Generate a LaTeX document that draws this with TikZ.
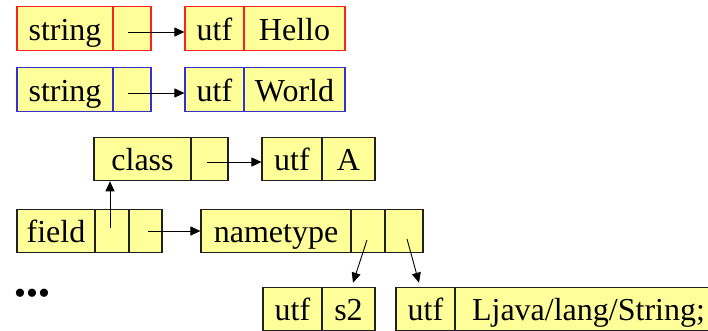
\documentclass[tikz,border=0pt]{standalone}
\usepackage{fontspec}
\setmainfont{Liberation Serif}
\newfontfamily\cellfont{Liberation Serif}
\usetikzlibrary{arrows.meta}
\definecolor{cellfill}{HTML}{FFFF99}
\definecolor{redline}{HTML}{FF2020}
\definecolor{blueline}{HTML}{3333CC}
\definecolor{blackline}{HTML}{202020}
\tikzset{
  cell/.style={draw=blackline, fill=cellfill, line width=1.1pt, inner sep=0pt,
    text height=33.5pt, text depth=10pt, font=\cellfont\fontsize{32}{38}\selectfont},
  redcell/.style={cell, draw=redline},
  bluecell/.style={cell, draw=blueline},
  arr/.style={line width=0.9pt, -{Triangle[length=10pt,width=9pt]}},
}
\newcommand{\cellat}[6]{% style, name, x1, x2, ycenter, text
  \node[#1, minimum width={(#4-#3)*1pt}, anchor=center] (#2) at ({(#3+#4)/2},#5) {#6};}
\begin{document}
\begin{tikzpicture}[x=1pt,y=-1pt]
\useasboundingbox (0,0) rectangle (708,330);
\clip (0,0) rectangle (708,330);
% row 1
\cellat{redcell}{s1a}{17}{113}{28.5}{string}
\cellat{redcell}{s1b}{113}{151}{28.5}{}
\cellat{redcell}{h1a}{185}{244}{28.5}{utf}
\cellat{redcell}{h1b}{244}{345}{28.5}{Hello}
% row 2
\cellat{bluecell}{s2a}{17}{113}{89.5}{string}
\cellat{bluecell}{s2b}{113}{151}{89.5}{}
\cellat{bluecell}{w1a}{185}{244}{89.5}{utf}
\cellat{bluecell}{w1b}{244}{345}{89.5}{World}
% class
\cellat{cell}{ca}{94}{191}{159}{class}
\cellat{cell}{cb}{191}{228}{159}{}
\cellat{cell}{aa}{262}{322}{159}{utf}
\cellat{cell}{ab}{322}{375}{159}{A}
% field / nametype
\cellat{cell}{fa}{17}{95}{231}{field}
\cellat{cell}{fb}{95}{129}{231}{}
\cellat{cell}{fc}{129}{162}{231}{}
\cellat{cell}{na}{201}{351}{231}{nametype}
\cellat{cell}{nb}{351}{385}{231}{}
\cellat{cell}{nc}{385}{423}{231}{}
% bottom
\cellat{cell}{ua}{263}{322}{309}{utf}
\cellat{cell}{ub}{322}{375}{309}{s2}
\cellat{cell}{la}{396}{455}{309}{utf}
\cellat{cell}{lb}{455}{722}{309}{Ljava/lang/String;}
% dots
\node[font=\cellfont\fontsize{34}{40}\selectfont, inner sep=0pt, anchor=west] (dots) at (14,297) {•••};
% arrows
\coordinate (p1) at ([xshift=-4pt,yshift=-3.5pt]s1b.center);
\draw[arr] (p1) -- (p1 -| h1a.west);
\coordinate (p2) at ([xshift=-4pt,yshift=-3.5pt]s2b.center);
\draw[arr] (p2) -- (p2 -| w1a.west);
\coordinate (p3) at ([xshift=-2.5pt,yshift=-3pt]cb.center);
\draw[arr] (p3) -- (p3 -| aa.west);
\coordinate (p4) at ([xshift=-2pt,yshift=3pt]fb.center);
\draw[arr] (p4) -- (p4 |- ca.south);
\coordinate (p5) at ([xshift=2.5pt]fc.center);
\draw[arr] (p5) -- (p5 -| na.west);
\coordinate (p6) at ([xshift=-1pt,yshift=-9pt]nb.center);
\coordinate (q6) at ([xshift=4.5pt,yshift=4pt]ub.north);
\draw[arr] (p6) -- (q6);
\coordinate (p7) at ([xshift=3pt,yshift=-8pt]nc.center);
\coordinate (q7) at ([xshift=-6.5pt,yshift=4pt]la.north);
\draw[arr] (p7) -- (q7);
\end{tikzpicture}
\end{document}
